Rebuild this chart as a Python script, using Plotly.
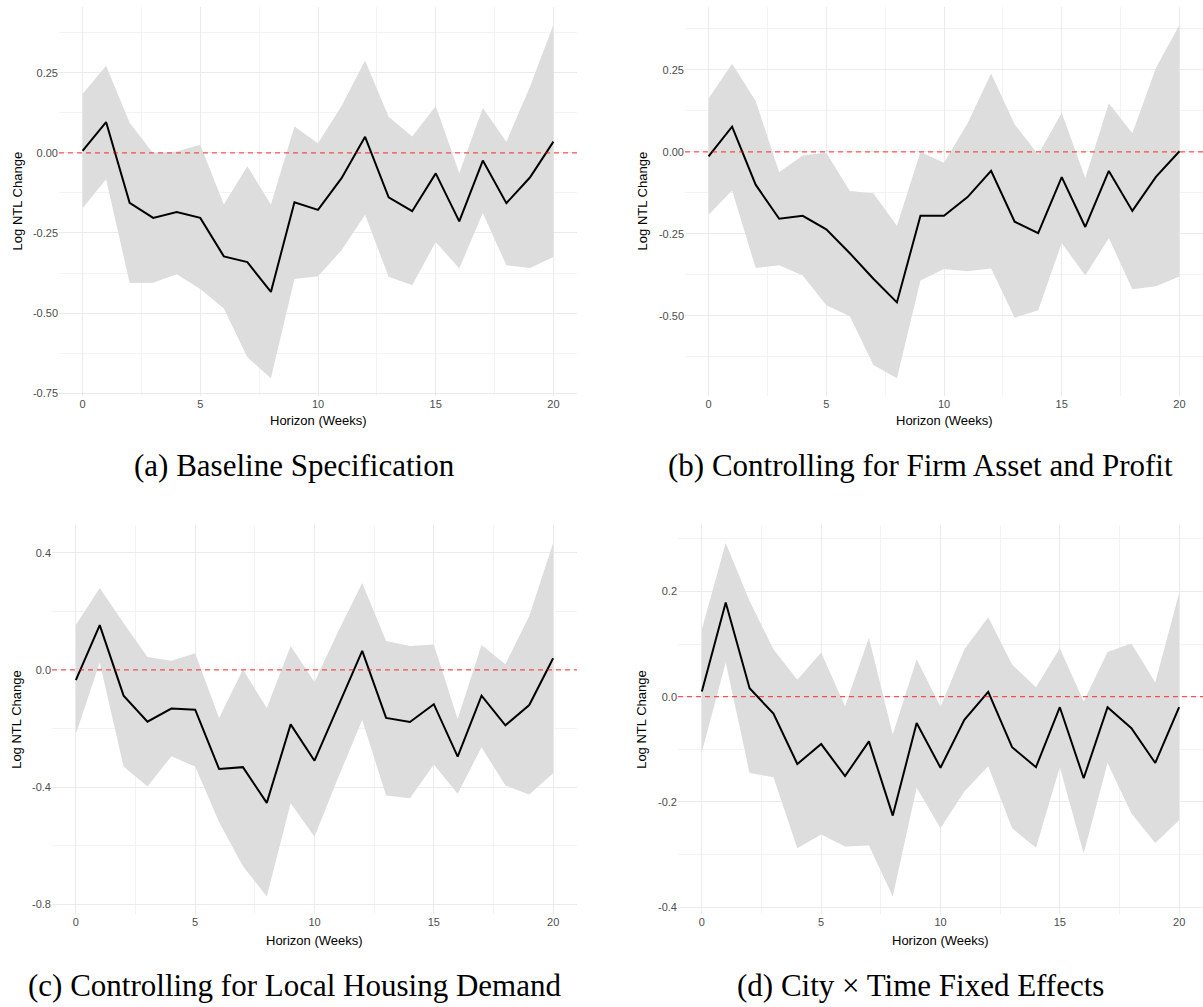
import plotly.graph_objects as go

weeks = list(range(21))

# (a) Baseline Specification
a_est = [0.006, 0.096, -0.156, -0.203, -0.185, -0.203, -0.323, -0.341, -0.434, -0.154, -0.178,
         -0.079, 0.050, -0.139, -0.182, -0.064, -0.214, -0.024, -0.157, -0.077, 0.035]
a_hi = [0.184, 0.272, 0.094, -0.001, 0.004, 0.025, -0.161, -0.042, -0.161, 0.082, 0.030,
        0.146, 0.288, 0.113, 0.051, 0.146, -0.063, 0.140, 0.035, 0.206, 0.400]
a_lo = [-0.173, -0.082, -0.406, -0.405, -0.379, -0.425, -0.486, -0.638, -0.703, -0.394, -0.385,
        -0.304, -0.193, -0.387, -0.413, -0.278, -0.361, -0.188, -0.351, -0.359, -0.325]

# (b) Controlling for Firm Asset and Profit
b_est = [-0.014, 0.077, -0.100, -0.204, -0.195, -0.236, -0.309, -0.387, -0.459, -0.195, -0.195,
         -0.138, -0.058, -0.213, -0.248, -0.077, -0.229, -0.058, -0.180, -0.076, 0.002]
b_hi = [0.163, 0.269, 0.155, -0.062, -0.011, -0.003, -0.119, -0.126, -0.225, 0.000, -0.033,
        0.087, 0.239, 0.084, -0.008, 0.119, -0.080, 0.148, 0.057, 0.256, 0.388]
b_lo = [-0.192, -0.118, -0.354, -0.346, -0.377, -0.468, -0.501, -0.650, -0.690, -0.392, -0.357,
        -0.364, -0.356, -0.506, -0.483, -0.278, -0.377, -0.263, -0.419, -0.410, -0.380]

# (c) Controlling for Local Housing Demand
c_est = [-0.035, 0.153, -0.088, -0.177, -0.132, -0.136, -0.338, -0.332, -0.454, -0.186, -0.310,
         -0.122, 0.065, -0.164, -0.178, -0.117, -0.296, -0.088, -0.189, -0.120, 0.040]
c_hi = [0.153, 0.280, 0.160, 0.044, 0.031, 0.057, -0.164, 0.001, -0.130, 0.082, -0.041,
        0.133, 0.297, 0.099, 0.082, 0.087, -0.168, 0.085, 0.019, 0.184, 0.433]
c_lo = [-0.219, 0.025, -0.330, -0.398, -0.295, -0.330, -0.519, -0.670, -0.774, -0.455, -0.570,
        -0.366, -0.171, -0.429, -0.438, -0.323, -0.423, -0.264, -0.395, -0.425, -0.353]

# (d) City x Time Fixed Effects
d_est = [0.010, 0.179, 0.016, -0.032, -0.128, -0.090, -0.151, -0.085, -0.226, -0.050, -0.135,
         -0.044, 0.009, -0.096, -0.134, -0.020, -0.155, -0.020, -0.060, -0.126, -0.020]
d_hi = [0.128, 0.292, 0.182, 0.090, 0.032, 0.084, -0.018, 0.112, -0.072, 0.071, -0.019,
        0.090, 0.151, 0.061, 0.018, 0.092, -0.009, 0.085, 0.101, 0.027, 0.197]
d_lo = [-0.105, 0.065, -0.145, -0.153, -0.288, -0.262, -0.285, -0.283, -0.380, -0.173, -0.250,
        -0.180, -0.132, -0.250, -0.287, -0.134, -0.298, -0.126, -0.222, -0.278, -0.235]

captions = ["(a) Baseline Specification",
            "(b) Controlling for Firm Asset and Profit",
            "(c) Controlling for Local Housing Demand",
            "(d) City \u00d7 Time Fixed Effects"]

ytick_vals = [[-0.75, -0.5, -0.25, 0.0, 0.25],
              [-0.5, -0.25, 0.0, 0.25],
              [-0.8, -0.4, 0.0, 0.4],
              [-0.4, -0.2, 0.0, 0.2]]
ytick_text = [["-0.75", "-0.50", "-0.25", "0.00", "0.25"],
              ["-0.50", "-0.25", "0.00", "0.25"],
              ["-0.8", "-0.4", "0.0", "0.4"],
              ["-0.4", "-0.2", "0.0", "0.2"]]
ytick_minor = [0.125, 0.125, 0.2, 0.1]
xtick_vals = [0, 5, 10, 15, 20]

W, H = 1203, 1007
# plot areas in pixels: (left, right, top, bottom)
areas = [(59, 577, 7, 397), (685, 1203, 7, 397), (52, 577, 527, 917), (678, 1203, 527, 917)]
ytitle_x = [17, 642, 17, 642]
xtitle_y = [422, 422, 943, 943]
caption_pos = [(294, 467), (920, 467), (294, 988), (920, 988)]

panels = [(a_est, a_hi, a_lo), (b_est, b_hi, b_lo), (c_est, c_hi, c_lo), (d_est, d_hi, d_lo)]

fig = go.Figure()
layout = {}
annotations = []
shapes = []

tick_font = dict(family="Liberation Sans, Arial, sans-serif", size=11, color="#4d4d4d")
title_font = dict(family="Liberation Sans, Arial, sans-serif", size=13, color="black")
cap_font = dict(family="Liberation Serif, DejaVu Serif, serif", size=31, color="black")

for i, (est, hi, lo) in enumerate(panels):
    n = i + 1
    xa = "x" if n == 1 else f"x{n}"
    ya = "y" if n == 1 else f"y{n}"
    fig.add_trace(go.Scatter(x=weeks, y=lo, mode="lines", line=dict(width=0),
                             xaxis=xa, yaxis=ya, showlegend=False, hoverinfo="skip"))
    fig.add_trace(go.Scatter(x=weeks, y=hi, mode="lines", line=dict(width=0),
                             fill="tonexty", fillcolor="rgb(221,221,221)",
                             xaxis=xa, yaxis=ya, showlegend=False, hoverinfo="skip"))
    fig.add_trace(go.Scatter(x=weeks, y=est, mode="lines", line=dict(color="black", width=2),
                             xaxis=xa, yaxis=ya, showlegend=False))

    l, r, t, b = areas[i]
    ymin = min(lo + est + [0.0])
    ymax = max(hi + est + [0.0])
    pad = 0.05 * (ymax - ymin)
    xpad = 0.05 * (max(weeks) - min(weeks))

    layout["xaxis" if n == 1 else f"xaxis{n}"] = dict(
        domain=[l / W, r / W], anchor=ya, range=[min(weeks) - xpad, max(weeks) + xpad],
        tickvals=xtick_vals, tickfont=tick_font, showline=False, zeroline=False,
        ticks="", showgrid=True, gridcolor="rgb(235,235,235)", gridwidth=1,
        minor=dict(showgrid=True, dtick=2.5, tick0=0, gridcolor="rgb(243,243,243)", gridwidth=1),
    )
    layout["yaxis" if n == 1 else f"yaxis{n}"] = dict(
        domain=[1 - b / H, 1 - t / H], anchor=xa, range=[ymin - pad, ymax + pad],
        tickvals=ytick_vals[i], ticktext=ytick_text[i], tickfont=tick_font,
        showline=False, zeroline=False, ticks="", showgrid=True,
        gridcolor="rgb(235,235,235)", gridwidth=1,
        minor=dict(showgrid=True, dtick=ytick_minor[i], tick0=0,
                   gridcolor="rgb(243,243,243)", gridwidth=1),
    )

    shapes.append(dict(type="line", xref=f"{xa} domain", yref=ya, x0=0, x1=1, y0=0, y1=0,
                       line=dict(color="rgba(255,0,0,0.65)", width=1.2, dash="5px,4px"),
                       layer="above"))

    annotations.append(dict(text="Log NTL Change", xref="paper", yref="paper",
                            x=ytitle_x[i] / W, y=1 - ((t + b) / 2) / H, textangle=-90,
                            showarrow=False, xanchor="center", yanchor="middle", font=title_font))
    annotations.append(dict(text="Horizon (Weeks)", xref="paper", yref="paper",
                            x=((l + r) / 2) / W, y=1 - xtitle_y[i] / H,
                            showarrow=False, xanchor="center", yanchor="middle", font=title_font))
    cx, cy = caption_pos[i]
    annotations.append(dict(text=captions[i], xref="paper", yref="paper",
                            x=cx / W, y=1 - cy / H, showarrow=False,
                            xanchor="center", yanchor="middle", font=cap_font))

layout.update(dict(width=W, height=H, margin=dict(l=0, r=0, t=0, b=0),
                   paper_bgcolor="white", plot_bgcolor="white",
                   annotations=annotations, shapes=shapes, showlegend=False))
fig.update_layout(**layout)
fig.write_html("out.html")
